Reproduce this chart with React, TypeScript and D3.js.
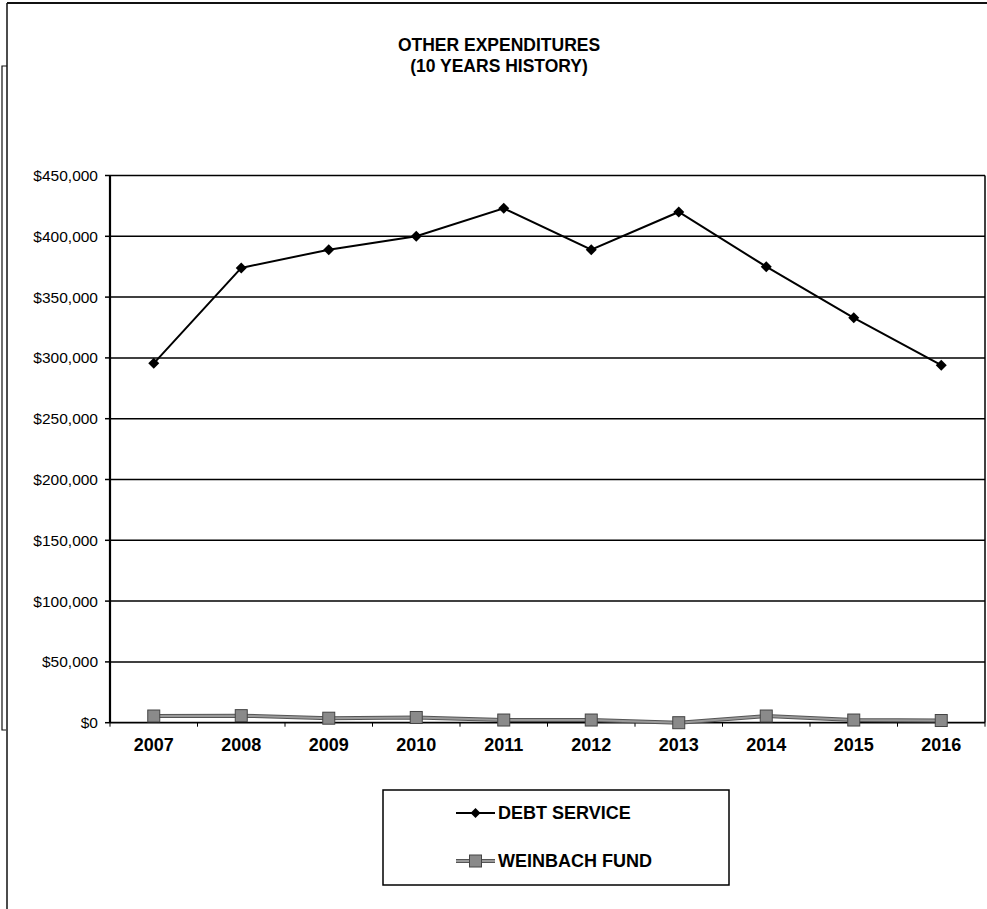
import React from "react";
import * as d3 from "d3";

const years = ["2007", "2008", "2009", "2010", "2011", "2012", "2013", "2014", "2015", "2016"];
const debtService = [295500, 374000, 389000, 400000, 423000, 389000, 420000, 375000, 333000, 294000];
const weinbachFund = [5500, 5800, 3700, 4300, 2200, 2200, 0, 5500, 2200, 1800];
const yTicks = [0, 50000, 100000, 150000, 200000, 250000, 300000, 350000, 400000, 450000];
const titleLines = ["OTHER EXPENDITURES", "(10 YEARS HISTORY)"];
const seriesNames = ["DEBT SERVICE", "WEINBACH FUND"];

const W = 987;
const H = 909;
const plot = { left: 110, right: 985, top: 175.5, bottom: 722.7 };
const FONT = "'Liberation Sans', Arial, Helvetica, sans-serif";

export default function App() {
  const x = d3.scaleBand<string>().domain(years).range([plot.left, plot.right]).padding(0);
  const y = d3.scaleLinear().domain([0, 450000]).range([plot.bottom, plot.top]);
  const cx = (yr: string) => (x(yr) as number) + x.bandwidth() / 2;
  const fmt = (v: number) => "$" + d3.format(",")(v);

  const line = d3
    .line<number>()
    .x((_, i) => cx(years[i]))
    .y((d) => y(d));

  const diamond = (px: number, py: number, r: number) =>
    `M${px},${py - r}L${px + r},${py}L${px},${py + r}L${px - r},${py}Z`;

  const boundaries = [...years.map((yr) => x(yr) as number), plot.right];

  return (
    <svg width={W} height={H} style={{ position: "absolute", left: 0, top: 0, background: "#fff" }}>
      <rect x={0} y={0} width={W} height={H} fill="#fff" />

      {/* outer frame */}
      <g stroke="#111" fill="none" strokeWidth={1.5}>
        <line x1={7} y1={3} x2={W} y2={3} strokeWidth={2} />
        <line x1={7} y1={3} x2={7} y2={H} />
        <polyline points={`7,66 2,66 2,730 6,730`} strokeWidth={1.2} />
      </g>

      {/* title */}
      <g fontFamily={FONT} fontSize={17.5} fontWeight={600} fill="#000" textAnchor="middle">
        {titleLines.map((t, i) => (
          <text key={t} x={499} y={50.5 + i * 21}>
            {t}
          </text>
        ))}
      </g>

      {/* gridlines and right border of the plot */}
      <g stroke="#000" strokeWidth={1.5}>
        {yTicks.slice(1).map((t) => (
          <line key={t} x1={plot.left} x2={plot.right} y1={y(t)} y2={y(t)} />
        ))}
        <line x1={plot.right} x2={plot.right} y1={plot.top} y2={plot.bottom} />
      </g>

      {/* y axis */}
      <g>
        <line x1={plot.left} x2={plot.left} y1={plot.top} y2={plot.bottom} stroke="#000" strokeWidth={2.2} />
        {yTicks.map((t) => (
          <g key={t}>
            <line x1={plot.left - 5} x2={plot.left} y1={y(t)} y2={y(t)} stroke="#000" strokeWidth={1.5} />
            <text x={98} y={y(t)} dy="0.36em" textAnchor="end" fontFamily={FONT} fontSize={15.5} fill="#000">
              {fmt(t)}
            </text>
          </g>
        ))}
      </g>

      {/* x axis */}
      <g>
        <line x1={plot.left} x2={plot.right} y1={plot.bottom} y2={plot.bottom} stroke="#000" strokeWidth={1.8} />
        {boundaries.map((bx, i) => (
          <line key={i} x1={bx} x2={bx} y1={plot.bottom} y2={plot.bottom + 4} stroke="#000" strokeWidth={1} />
        ))}
        {years.map((yr) => (
          <text
            key={yr}
            x={cx(yr)}
            y={751}
            textAnchor="middle"
            fontFamily={FONT}
            fontSize={18}
            fontWeight="bold"
            fill="#000"
          >
            {yr}
          </text>
        ))}
      </g>

      {/* weinbach fund */}
      <path d={line(weinbachFund) ?? ""} fill="none" stroke="#555" strokeWidth={4} />
      <path d={line(weinbachFund) ?? ""} fill="none" stroke="#9a9a9a" strokeWidth={2} />
      {weinbachFund.map((v, i) => (
        <rect
          key={i}
          x={cx(years[i]) - 6}
          y={y(v) - 6}
          width={12}
          height={12}
          fill="#8a8a8a"
          stroke="#444"
          strokeWidth={1}
        />
      ))}

      {/* debt service */}
      <path d={line(debtService) ?? ""} fill="none" stroke="#000" strokeWidth={2} />
      {debtService.map((v, i) => (
        <path key={i} d={diamond(cx(years[i]), y(v), 5.5)} fill="#000" />
      ))}

      {/* legend */}
      <g>
        <rect x={383} y={790} width={346} height={95} fill="#fff" stroke="#000" strokeWidth={1.5} />
        <line x1={456} x2={495} y1={813} y2={813} stroke="#000" strokeWidth={2} />
        <path d={diamond(475.5, 813, 5)} fill="#000" />
        <line x1={456} x2={495} y1={861} y2={861} stroke="#555" strokeWidth={4} />
        <line x1={456} x2={495} y1={861} y2={861} stroke="#9a9a9a" strokeWidth={2} />
        <rect x={469.5} y={855} width={12} height={12} fill="#8a8a8a" stroke="#444" strokeWidth={1} />
        {seriesNames.map((n, i) => (
          <text
            key={n}
            x={498}
            y={813 + i * 48}
            dy="0.36em"
            fontFamily={FONT}
            fontSize={18}
            fontWeight="bold"
            fill="#000"
          >
            {n}
          </text>
        ))}
      </g>
    </svg>
  );
}
